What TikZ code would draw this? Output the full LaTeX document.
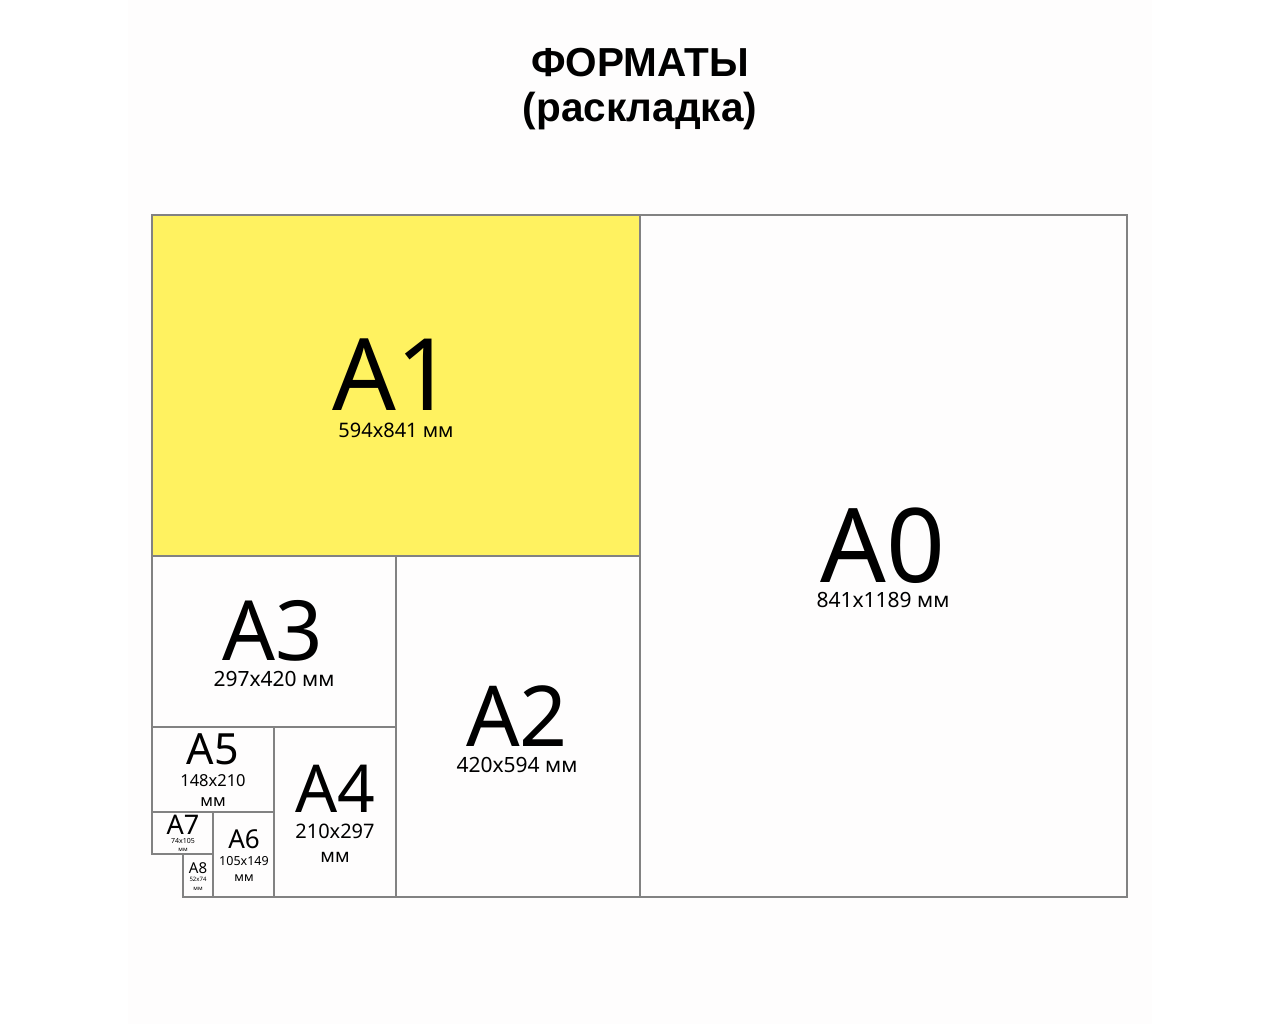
\documentclass[tikz,border=0pt]{standalone}
\usepackage{fontspec}
\setmainfont{Noto Sans}
\newfontfamily\titlefont{Liberation Sans}
\definecolor{linegray}{RGB}{130,130,130}
\definecolor{paperyellow}{RGB}{255,242,96}
\definecolor{bgtone}{RGB}{254,253,253}
\newcommand\fsz[1]{\fontsize{#1}{#1}\selectfont}
\begin{document}
\begin{tikzpicture}[x=1pt,y=-1pt,
  sheet/.style={draw=linegray,line width=1.3pt},
  lbl/.style={anchor=base,inner sep=0pt,text=black},
  ttl/.style={anchor=base,inner sep=0pt,text=black,font=\titlefont\bfseries\fsz{40.5}}]
\useasboundingbox (0,0) rectangle (1280,1024);
\fill[white] (0,0) rectangle (1280,1024);
\fill[bgtone] (128,0) rectangle (1152,1024);
% sheets
\fill[paperyellow] (152,215) rectangle (640,556);
\draw[sheet] (640,215) rectangle (1127,897);
\draw[sheet] (152,215) rectangle (640,556);
\draw[sheet] (152,556) rectangle (396,727);
\draw[sheet] (396,556) rectangle (640,897);
\draw[sheet] (152,727) rectangle (274,812);
\draw[sheet] (274,727) rectangle (396,897);
\draw[sheet] (152,812) rectangle (213,854);
\draw[sheet] (213,812) rectangle (274,897);
\draw[sheet] (183,854) rectangle (213,897);
% title
\node[ttl] (t1) at (640,77) {ФОРМАТЫ};
\node[ttl] (t2) at (640,122) {(раскладка)};
% A1
\node[lbl] (a1) at (393,410) {\fsz{100}A1};
\node[lbl] (a1d) at (396,437.5) {\fsz{20}594x841 мм};
% A0
\node[lbl] (a0) at (883,582) {\fsz{103}A0};
\node[lbl] (a0d) at (883,607.5) {\fsz{21}841x1189 мм};
% A3
\node[lbl] (a3) at (273,660) {\fsz{83}A3};
\node[lbl] (a3d) at (274,686) {\fsz{21}297x420 мм};
% A2
\node[lbl] (a2) at (517,746) {\fsz{84}A2};
\node[lbl] (a2d) at (517,772) {\fsz{21}420x594 мм};
% A5
\node[lbl] (a5) at (213,764) {\fsz{43}A5};
\node[lbl] (a5d) at (213,786) {\fsz{16.5}148x210};
\node[lbl] (a5m) at (213,806) {\fsz{16.5}мм};
% A4
\node[lbl] (a4) at (335,812.5) {\fsz{66}A4};
\node[lbl] (a4d) at (335,838) {\fsz{20}210x297};
\node[lbl] (a4m) at (335,862) {\fsz{19}мм};
% A7
\node[lbl] (a7) at (183,834.5) {\fsz{27}A7};
\node[lbl] (a7d) at (183,843.5) {\fsz{7}74x105};
\node[lbl] (a7m) at (183,851) {\fsz{6}мм};
% A6
\node[lbl] (a6) at (244,848) {\fsz{26}A6};
\node[lbl] (a6d) at (244,865) {\fsz{12.5}105x149};
\node[lbl] (a6m) at (244,881) {\fsz{12.5}мм};
% A8
\node[lbl] (a8) at (198,873.5) {\fsz{15}A8};
\node[lbl] (a8d) at (198,881) {\fsz{6}52x74};
\node[lbl] (a8m) at (198,890.5) {\fsz{6}мм};
\end{tikzpicture}
\end{document}
